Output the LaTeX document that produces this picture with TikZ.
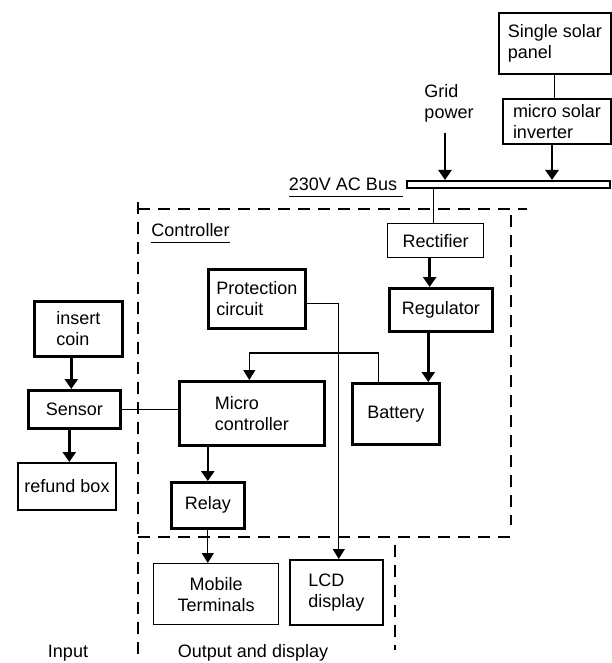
\documentclass[tikz,border=0pt]{standalone}
\usepackage{fontspec}
\setmainfont{Liberation Sans}
\usetikzlibrary{arrows.meta,calc}
\begin{document}
\begin{tikzpicture}[x=1pt,y=-1pt,
  font=\fontsize{18}{21}\selectfont,
  thinbox/.style={draw, line width=1.3pt, anchor=north west, inner sep=0pt, align=left},
  thickbox/.style={draw, line width=2.6pt, anchor=north west, inner sep=0pt, align=left},
  lbl/.style={inner sep=0pt, align=left},
  arr/.style={-{Triangle[width=13pt,length=10pt]}, line width=2.5pt},
  tharr/.style={-{Triangle[width=12pt,length=10pt]}, line width=1.3pt},
  conn/.style={line width=1.3pt},
  frameline/.style={line width=1.4pt, dash pattern=on 12pt off 8pt},
]
\useasboundingbox (0,0) rectangle (611,663);

% boxes
\node[thinbox, line width=1.6pt, minimum width=112pt, minimum height=61pt] (panel) at (498,12) {Single solar\\panel};
\node[thinbox, line width=2pt, minimum width=108pt, minimum height=45pt] (inv) at (502,98) {micro solar\\inverter};
\node[thickbox, line width=2.2pt, minimum width=203pt, minimum height=7pt] (bus) at (406,180) {};
\node[thinbox, minimum width=96pt, minimum height=34pt] (rect) at (387,223) {Rectifier};
\node[thickbox, minimum width=103pt, minimum height=43pt] (reg) at (388,287) {Regulator};
\node[thickbox, minimum width=97pt, minimum height=59pt] (prot) at (207,268) {Protection\\circuit};
\node[thickbox, minimum width=87pt, minimum height=61pt] (bat) at (351,382) {Battery};
\node[thickbox, minimum width=145pt, minimum height=64pt] (micro) at (178,380) {Micro\\controller};
\node[thickbox, minimum width=88pt, minimum height=55pt] (coin) at (33,300) {insert\\coin};
\node[thickbox, minimum width=92pt, minimum height=38pt] (sensor) at (27,389) {Sensor};
\node[thickbox, line width=2pt, minimum width=98pt, minimum height=47pt] (refund) at (17,462) {refund box};
\node[thickbox, minimum width=73pt, minimum height=46pt] (relay) at (170,481) {Relay};
\node[thinbox, align=center, minimum width=125pt, minimum height=61pt] (mobile) at (153,563) {Mobile\\Terminals};
\node[thinbox, line width=1.6pt, minimum width=93pt, minimum height=65pt] (lcd) at (289,559) {LCD\\display};

% labels
\node[lbl] (grid) at (449,103.5) {Grid\\power};
\node[lbl] (bustext) at (343,184) {230V AC Bus};
\node[lbl] (ctrl) at (190.5,230) {Controller};
\node[lbl] (input) at (68,653) {Input};
\node[lbl] (outlbl) at (253,653) {Output and display};

\draw[line width=1pt] ([yshift=-6.5pt]bustext.base west) -- ([yshift=-6.5pt,xshift=-3pt]bustext.base west -| bus.west);
\draw[line width=1pt] ([yshift=-6.5pt]ctrl.base west) -- ([yshift=-6.5pt]ctrl.base east);

% dashed frames
\draw[frameline] (138,202) -- (138,660);
\draw[frameline] (138,209) -- (527,209);
\draw[frameline] (511,215) -- (511,525);
\draw[frameline] (138,537) -- (512,537);
\draw[frameline] (395,545) -- (395,650);

% connectors
\coordinate (gridtail) at (445,133);
\draw[conn] (panel.south) -- (panel.south |- inv.north);
\draw[arr] ([xshift=-5pt]inv.south) -- ([xshift=-5pt]inv.south |- bus.north);
\draw[arr] (gridtail) -- (gridtail |- bus.north);
\draw[conn] ([xshift=-2pt]rect.north |- bus.south) -- ([xshift=-2pt]rect.north);
\draw[arr] ([xshift=-6pt]rect.south) -- ([xshift=-6pt]rect.south |- reg.north);
\draw[arr] ([xshift=-12.5pt]reg.south) -- ([xshift=-12.5pt]reg.south |- bat.north);
\draw[tharr] ([xshift=-17.5pt]bat.north) -- ++(0,-29) -| ([xshift=-2.5pt]micro.north);
\draw[tharr] ([yshift=-4.5pt]prot.east) -| ([xshift=2.5pt]lcd.north);
\draw[conn] (sensor.east) -- (sensor.east -| micro.west);
\draw[arr] ([xshift=-7pt]coin.south) -- ([xshift=-7pt]coin.south |- sensor.north);
\draw[arr] ([xshift=-5pt]sensor.south) -- ([xshift=-5pt]sensor.south |- refund.north);
\draw[arr] (relay.north |- micro.south) -- (relay.north);
\draw[tharr] (relay.south) -- (relay.south |- mobile.north);
\end{tikzpicture}
\end{document}
